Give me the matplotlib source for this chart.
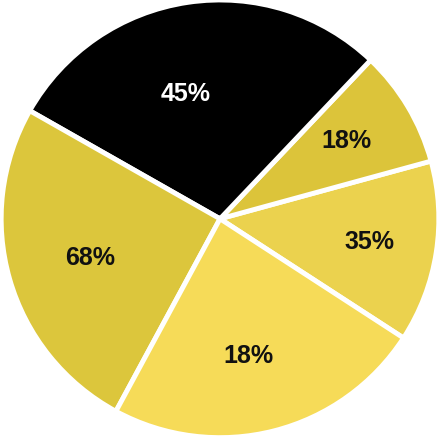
import matplotlib.pyplot as plt
import numpy as np

# slice sizes (degrees), counterclockwise from the 35% slice
sizes = [48.3, 31.2, 103.9, 91.2, 85.4]
labels = ['35%', '18%', '45%', '68%', '18%']
colors = ['#EBD24E', '#DCC43A', '#000000', '#DCC63C', '#F6DB58']
label_colors = ['#111111', '#111111', '#FFFFFF', '#111111', '#111111']
label_dist = [0.69, 0.68, 0.59, 0.62, 0.64]
label_turn = [0, 0.7, 7, 0.7, -2.7]   # small angular nudge of each label (deg)
start = -33

plt.rcParams['font.family'] = ['Liberation Sans', 'DejaVu Sans']

fig = plt.figure(figsize=(4.4, 4.42), dpi=100)
ax = fig.add_axes([0, 0, 1, 1])
wedges, texts = ax.pie(sizes, colors=colors, labels=labels, startangle=start,
                       counterclock=True, radius=1.0, labeldistance=0.65,
                       wedgeprops={'edgecolor': 'white', 'linewidth': 3.5},
                       textprops={'fontsize': 18, 'fontweight': 'bold'})

for i, (w, t) in enumerate(zip(wedges, texts)):
    ang = np.deg2rad((w.theta1 + w.theta2) / 2 + label_turn[i])
    t.set_position((label_dist[i] * np.cos(ang), label_dist[i] * np.sin(ang)))
    t.set_ha('center')
    t.set_va('center')
    t.set_color(label_colors[i])

ax.set_xlim(-1.0, 1.0)
ax.set_ylim(-1.02, 1.0)
ax.set_aspect('equal')
ax.axis('off')
fig.savefig('out.png', dpi=100, facecolor='white')
